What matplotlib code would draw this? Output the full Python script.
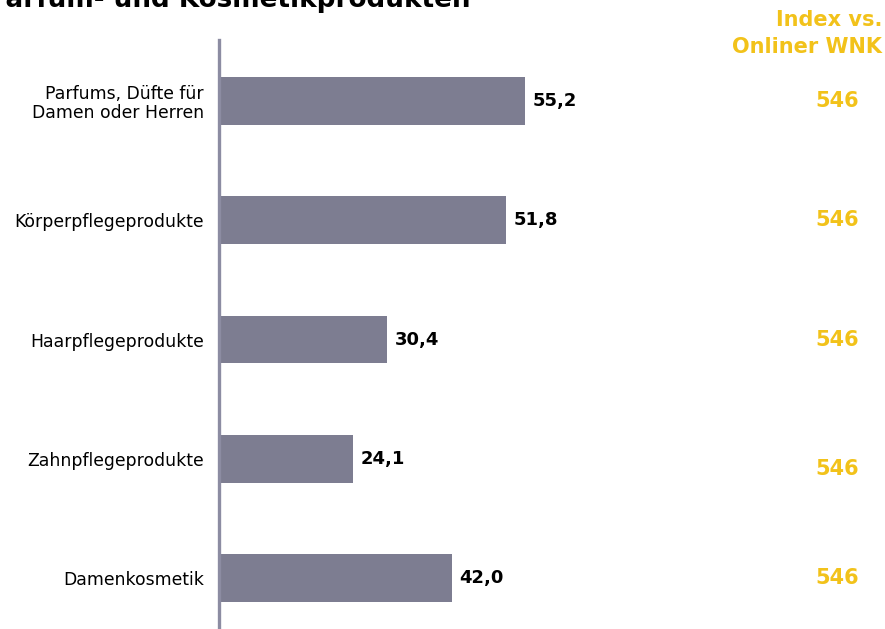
import matplotlib.pyplot as plt
from matplotlib import transforms

categories = ["Parfums, Düfte für\nDamen oder Herren", "Körperpflegeprodukte",
              "Haarpflegeprodukte", "Zahnpflegeprodukte", "Damenkosmetik"]
shares = [55.2, 51.8, 30.4, 24.1, 42.0]
index_values = [546, 546, 546, 546, 546]
index_shift = [0.0, 0.0, 0.0, 0.09, 0.0]  # the Zahnpflege index sits a bit lower

BAR_COLOR = "#7d7d91"
AXIS_COLOR = "#8c8ca2"
GOLD = "#f2c21a"

W, H = 885, 629
fig = plt.figure(figsize=(W / 100, H / 100), dpi=100)

# axes placed in pixels: y axis at x=219, top at y=40, runs to the bottom edge
ax = fig.add_axes([219 / W, 0, 1 - 219 / W, 1 - 40 / H])
ypos = list(range(len(categories)))
ax.barh(ypos, shares, height=0.40, color=BAR_COLOR, zorder=2)
ax.set_xlim(0, (W - 219) / 5.54)
ax.set_ylim(4 + 51 / 119, -61 / 119)

for s in ["top", "right", "bottom"]:
    ax.spines[s].set_visible(False)
ax.spines["left"].set_color(AXIS_COLOR)
ax.spines["left"].set_linewidth(2.4)
ax.set_xticks([])
ax.set_yticks(ypos)
ax.set_yticklabels(categories, fontsize=12.4, linespacing=1.05)
ax.tick_params(axis="y", length=0, pad=11)

# value labels at bar ends
for y, v in zip(ypos, shares):
    ax.text(v + 1.4, y, f"{v:.1f}".replace(".", ","), va="center", ha="left",
            fontsize=13, fontweight="bold", color="black")

# index column on the right
trans = transforms.blended_transform_factory(fig.transFigure, ax.transData)
for y, idx, dy in zip(ypos, index_values, index_shift):
    ax.text(837 / W, y + dy, str(idx), transform=trans, ha="center", va="center",
            fontsize=15, fontweight="bold", color=GOLD, clip_on=False)

fig.text(882 / W, 1 - 20 / H, "Index vs.", ha="right", va="center",
         fontsize=15, fontweight="bold", color=GOLD)
fig.text(882 / W, 1 - 47 / H, "Onliner WNK", ha="right", va="center",
         fontsize=15, fontweight="bold", color=GOLD)

# title (runs off the top-left edge)
fig.text(-13 / W, 1 - 7 / H, "Parfum- und Kosmetikprodukten", ha="left", va="baseline",
         fontsize=18.9, fontweight="bold", color="black")

fig.savefig("out.png", dpi=100, facecolor="white")
